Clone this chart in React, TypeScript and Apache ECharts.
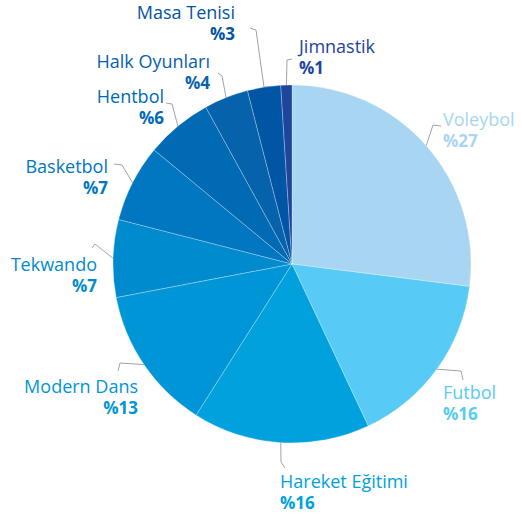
import React, { useEffect, useRef } from "react";
import * as echarts from "echarts";

const categories = [
  "Voleybol",
  "Futbol",
  "Hareket Eğitimi",
  "Modern Dans",
  "Tekwando",
  "Basketbol",
  "Hentbol",
  "Halk Oyunları",
  "Masa Tenisi",
  "Jimnastik",
];
const values = [27, 16, 16, 13, 7, 7, 6, 4, 3, 1];
const colors = [
  "#a8d5f1",
  "#57cbf5",
  "#00a1dc",
  "#0095d7",
  "#008bce",
  "#0077c0",
  "#006ab5",
  "#0762ac",
  "#0055a5",
  "#1e449c",
];

// label placement (annotation layout, not data)
const labelSpots: { x: number; base: number; align: string; elbow: number[]; end: number[] }[] = [
  { x: 443, base: 125, align: "left", elbow: [433, 125], end: [441, 126] },
  { x: 443, base: 398, align: "left", elbow: [461, 371], end: [463, 380] },
  { x: 280, base: 487, align: "left", elbow: [281, 462], end: [285, 468] },
  { x: 138, base: 392, align: "right", elbow: [120, 363], end: [118, 371] },
  { x: 97, base: 270, align: "right", elbow: [95, 244], end: [92, 248] },
  { x: 108, base: 172, align: "right", elbow: [122, 165], end: [114, 164] },
  { x: 164, base: 102, align: "right", elbow: [172, 104], end: [166, 103] },
  { x: 210, base: 67, align: "right", elbow: [222, 76], end: [218, 73] },
  { x: 235, base: 18, align: "right", elbow: [256, 30], end: [250, 28] },
  { x: 299, base: 52, align: "left", elbow: [287, 60], end: [292, 59] },
];

const FONT = "'Open Sans', sans-serif";

export default function App() {
  const ref = useRef<HTMLDivElement>(null);
  useEffect(() => {
    if (!ref.current) return;
    const chart = echarts.init(ref.current, undefined, { renderer: "svg" });
    chart.setOption({
      animation: false,
      backgroundColor: "#ffffff",
      series: [
        {
          type: "pie",
          center: [292, 264],
          radius: 179,
          startAngle: 90,
          clockwise: true,
          avoidLabelOverlap: false,
          itemStyle: { borderColor: "rgba(255,255,255,0.45)", borderWidth: 0.6 },
          label: {
            show: true,
            position: "outside",
            formatter: "{n|{b}}\n{v|%{c}}",
            rich: {
              n: { fontSize: 18, lineHeight: 22, fontFamily: FONT, fontWeight: "normal" },
              v: { fontSize: 17, lineHeight: 22, fontFamily: FONT, fontWeight: "bold" },
            },
          },
          labelLine: {
            show: true,
            length: 15,
            length2: 8,
            lineStyle: { color: "#a3a3a3", width: 1 },
          },
          labelLayout: (params: any) => {
            const s = labelSpots[params.dataIndex];
            const start = params.labelLinePoints ? params.labelLinePoints[0] : s.elbow;
            return {
              x: s.x,
              y: s.base - 17.5,
              align: s.align,
              verticalAlign: "top",
              labelLinePoints: [start, s.elbow, s.end],
            };
          },
          emphasis: { disabled: true },
          data: categories.map((name, i) => ({
            name,
            value: values[i],
            itemStyle: { color: colors[i] },
            label: { color: colors[i] },
          })),
        },
      ],
    });
    return () => chart.dispose();
  }, []);
  return (
    <div
      ref={ref}
      style={{ position: "fixed", left: 0, top: 0, width: 522, height: 514 }}
    />
  );
}
